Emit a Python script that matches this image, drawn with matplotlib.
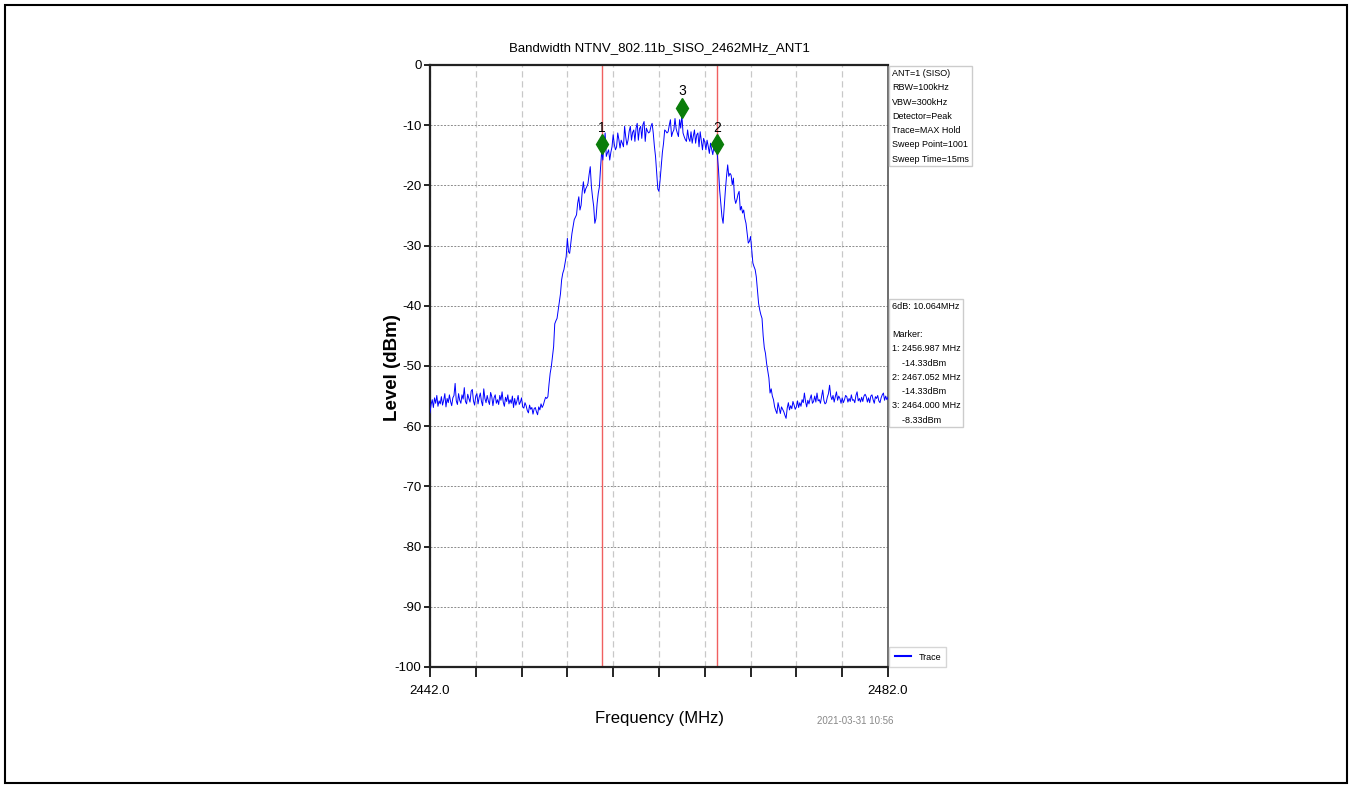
import numpy as np
import matplotlib
matplotlib.use("Agg")
import matplotlib.pyplot as plt
from matplotlib.patches import Rectangle
from matplotlib.transforms import offset_copy

plt.rcParams['axes.unicode_minus'] = False
FONT = ['Liberation Sans', 'DejaVu Sans']

title = "Bandwidth NTNV_802.11b_SISO_2462MHz_ANT1"
f_start, f_stop = 2442.0, 2482.0

# trace, one value every 0.1 MHz (one row = 1 MHz)
level = [
    -57.8, -56.4, -55.6, -56.9, -55.3, -56.2, -54.9, -56.7, -55.8, -56.3,  # 2442
    -55.1, -56.5, -55.7, -54.6, -56.8, -55.4, -56.1, -54.8, -55.9, -56.6,  # 2443
    -55.3, -54.9, -52.9, -55.8, -56.4, -54.6, -55.7, -56.2, -54.8, -55.5,  # 2444
    -53.6, -55.9, -56.3, -54.7, -55.4, -56.0, -54.2, -53.9, -55.8, -56.5,  # 2445
    -55.0, -54.6, -56.3, -55.2, -54.5, -55.9, -56.6, -53.8, -55.4, -56.1,  # 2446
    -54.9, -55.8, -56.4, -54.4, -55.1, -56.6, -55.3, -54.8, -56.2, -55.6,  # 2447
    -56.4, -54.9, -55.7, -54.3, -56.0, -56.7, -55.2, -55.9, -54.8, -56.3,  # 2448
    -55.6, -56.2, -55.0, -56.9, -55.4, -56.5, -55.8, -54.9, -56.4, -56.0,  # 2449
    -55.3, -56.8, -57.0, -56.1, -56.6, -57.4, -57.8, -56.5, -57.2, -56.9,  # 2450
    -58.0, -57.1, -56.9, -57.6, -58.1, -56.8, -57.3, -56.3, -56.9, -56.5,  # 2451
    -55.8, -55.2, -55.4, -55.1, -53.0, -51.2, -50.1, -48.5, -46.8, -43.0,  # 2452
    -42.5, -42.1, -40.7, -39.3, -38.0, -35.7, -34.6, -34.0, -32.9, -31.8,  # 2453
    -28.8, -31.0, -31.3, -29.6, -28.0, -26.9, -25.7, -25.3, -24.9, -23.0,  # 2454
    -21.9, -24.1, -23.3, -21.0, -19.4, -21.3, -20.6, -20.2, -19.7, -18.2,  # 2455
    -16.9, -20.2, -22.0, -23.5, -26.3, -25.5, -23.0, -21.3, -20.2, -17.0,  # 2456
    -14.3, -15.8, -13.0, -11.3, -15.2, -14.6, -14.1, -15.8, -14.5, -13.6,  # 2457
    -11.6, -13.2, -14.1, -13.6, -11.3, -12.4, -13.8, -12.5, -13.0, -13.6,  # 2458
    -10.2, -12.0, -13.3, -12.5, -11.0, -10.2, -12.5, -11.2, -10.8, -12.7,  # 2459
    -10.5, -9.7, -12.5, -10.6, -10.2, -12.2, -9.9, -9.4, -12.7, -10.5,  # 2460
    -11.0, -11.3, -11.1, -10.2, -9.7, -11.3, -13.5, -15.2, -18.0, -20.6,  # 2461
    -21.0, -19.1, -16.8, -14.5, -13.0, -10.8, -11.0, -11.3, -11.1, -10.0,  # 2462
    -9.1, -11.9, -11.2, -10.8, -8.9, -10.6, -11.3, -11.9, -9.1, -10.5,  # 2463
    -8.3, -11.3, -11.9, -12.4, -12.7, -10.8, -12.2, -12.7, -11.1, -13.0,  # 2464
    -11.8, -10.8, -13.0, -11.6, -11.3, -13.6, -11.1, -12.6, -14.1, -12.2,  # 2465
    -12.8, -14.1, -12.5, -13.5, -14.7, -13.0, -14.0, -14.9, -13.6, -14.3,  # 2466
    -14.3, -15.0, -17.4, -20.8, -23.0, -25.2, -26.3, -23.5, -20.8, -18.5,  # 2467
    -16.6, -18.5, -18.0, -18.3, -19.9, -18.8, -22.1, -23.0, -22.4, -21.5,  # 2468
    -21.0, -24.1, -23.5, -24.6, -24.1, -25.5, -26.3, -27.9, -29.6, -29.3,  # 2469
    -28.5, -30.7, -32.9, -33.5, -34.0, -35.2, -37.5, -39.6, -40.7, -41.5,  # 2470
    -42.1, -45.0, -47.0, -47.9, -49.6, -50.8, -52.0, -54.5, -53.8, -55.0,  # 2471
    -55.6, -56.8, -57.4, -57.9, -56.1, -57.0, -57.9, -56.8, -57.2, -57.6,  # 2472
    -58.2, -58.7, -57.0, -56.1, -57.3, -56.6, -57.1, -55.9, -56.5, -57.2,  # 2473
    -56.8, -55.8, -56.9, -56.1, -56.7, -55.6, -56.1, -54.5, -55.9, -56.8,  # 2474
    -55.7, -56.3, -55.4, -54.8, -56.2, -55.9, -55.0, -56.0, -54.5, -55.8,  # 2475
    -55.6, -56.2, -55.1, -54.0, -55.7, -56.3, -56.1, -55.2, -54.6, -53.2,  # 2476
    -55.0, -55.6, -54.9, -56.0, -55.1, -54.3, -55.7, -55.0, -55.4, -56.2,  # 2477
    -55.3, -56.1, -55.6, -54.9, -55.1, -56.0, -55.4, -55.9, -54.8, -55.7,  # 2478
    -55.6, -56.1, -54.9, -54.3, -55.8, -55.4, -56.0, -55.2, -55.9, -55.0,  # 2479
    -54.7, -55.1, -56.0, -55.3, -56.1, -55.0, -54.8, -55.6, -56.2, -55.1,  # 2480
    -55.4, -54.9, -55.8, -56.1, -55.3, -54.8, -54.5, -55.7, -55.0, -55.6,  # 2481
    -55.2,
]
freq = np.linspace(f_start, f_stop, len(level))

marker_ids = ["1", "2", "3"]
marker_freq = [2456.987, 2467.052, 2464.000]
marker_level = [-14.33, -14.33, -8.33]

settings = ["ANT=1 (SISO)", "RBW=100kHz", "VBW=300kHz", "Detector=Peak",
            "Trace=MAX Hold", "Sweep Point=1001", "Sweep Time=15ms"]
bw_6db = "10.064MHz"
stamp = "2021-03-31 10:56"

fig = plt.figure(figsize=(13.52, 7.87), dpi=100)
fig.patches.append(Rectangle((0.0037, 0.0051), 0.9926, 0.9885, transform=fig.transFigure,
                             fill=False, edgecolor='black', linewidth=1.5))
ax = fig.add_axes([0.318, 0.1525, 0.3388, 0.765])

ax.plot(freq, level, color='#0000ff', linewidth=0.7, label='Trace', zorder=3)

# red lines on the two 6 dB points
for f in marker_freq[:2]:
    ax.axvline(f, color='#f06060', linewidth=1.0, zorder=2)

# diamonds sit with their lower tip on the value
up = offset_copy(ax.transData, fig=fig, x=0, y=5, units='points')
ax.plot(marker_freq, marker_level, 'd', color='#0a7d0a', markersize=10,
        transform=up, zorder=4, clip_on=False)
for mid, f, l in zip(marker_ids, marker_freq, marker_level):
    ax.annotate(mid, (f, l), xytext=(0, 17), textcoords='offset points',
                ha='center', va='center', fontsize=10, family=FONT)

ax.set_xlim(f_start, f_stop)
ax.set_ylim(-100, 0)
ax.set_xticks(np.arange(f_start, f_stop + 0.1, 4))
ax.set_xticklabels(["2442.0"] + [""] * 9 + ["2482.0"])
ax.set_yticks(np.arange(-100, 1, 10))
ax.tick_params(axis='x', direction='out', length=7, width=1.2, pad=6)
ax.tick_params(axis='y', direction='out', length=4, width=1.2, pad=2)
for lab in ax.get_xticklabels() + ax.get_yticklabels():
    lab.set_family(FONT)
    lab.set_fontsize(9.5)

ax.grid(axis='x', color='#c8c8c8', linestyle=(0, (5, 3)), linewidth=0.9)
ax.grid(axis='y', color='#8c8c8c', linestyle=(0, (2, 1.5)), linewidth=0.7)

for side in ['left', 'bottom', 'top']:
    ax.spines[side].set_linewidth(1.6)
    ax.spines[side].set_color('#222222')
ax.spines['right'].set_linewidth(1.2)
ax.spines['right'].set_color('#555555')

ax.set_title(title, fontsize=9.5, family=FONT, pad=10)
ax.text(0.502, -0.085, "Frequency (MHz)", transform=ax.transAxes, ha='center', va='center',
        fontsize=12, family=FONT)
ax.text(-0.081, 0.498, "Level (dBm)", transform=ax.transAxes, ha='center', va='center',
        rotation=90, fontsize=13.5, fontweight='bold', family=FONT)
ax.text(0.928, -0.0897, stamp, transform=ax.transAxes, ha='center', va='center',
        fontsize=7, color='#888888', family=FONT)

box = dict(boxstyle='square,pad=0.3', facecolor='white', edgecolor='#cccccc', linewidth=1)
ax.text(1.009, 0.993, "\n".join(settings), transform=ax.transAxes, ha='left', va='top',
        fontsize=6.5, family=FONT, linespacing=1.75, bbox=box)

lines = ["6dB: " + bw_6db, "", "Marker:"]
for mid, f, l in zip(marker_ids, marker_freq, marker_level):
    lines.append(f"{mid}: {f:.3f} MHz")
    lines.append(f"    {l:.2f}dBm")
ax.text(1.009, 0.607, "\n".join(lines), transform=ax.transAxes, ha='left', va='top',
        fontsize=6.5, family=FONT, linespacing=1.75, bbox=box)

leg = ax.legend(loc='lower left', bbox_to_anchor=(1.003, 0.0), borderaxespad=0, frameon=True,
                fancybox=False, edgecolor='#cccccc', handlelength=1.8, borderpad=0.6,
                handletextpad=0.8, prop={'family': FONT, 'size': 6.5})
leg.get_lines()[0].set_linewidth(1.5)

fig.savefig("out.png", dpi=100)
